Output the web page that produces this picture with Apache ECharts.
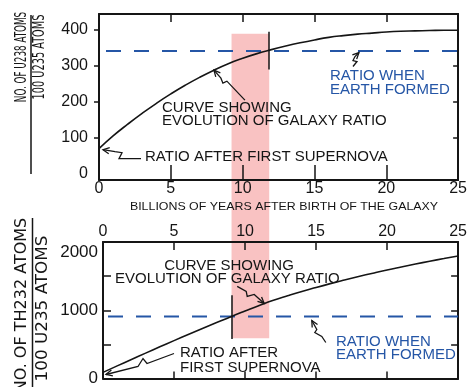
<!DOCTYPE html>
<html>
<head>
<meta charset="utf-8">
<script src="https://cdn.jsdelivr.net/npm/echarts@6/dist/echarts.min.js"></script>
<style>
html,body{margin:0;padding:0;background:#fff}
#chart{width:470px;height:387px}
</style>
</head>
<body>
<div id="chart"></div>
<script>
// Time after the birth of the galaxy, billions of years
const years = [0,1,2,3,4,5,6,7,8,9,10,11,12,13,14,15,16,17,18,19,20,21,22,23,24,25];
// U238 atoms per 100 U235 atoms in the galaxy
const u238Ratio = [70,106,138,168,196,222,246,268,288,306,321,334,345,355,364,372,379,384,388,391,394,396,397,398,399,399];
// Th232 atoms per 100 U235 atoms in the galaxy
const th232Ratio = [90,185,279,372,464,555,645,733,819,906,989,1070,1146,1212,1275,1334,1390,1443,1494,1543,1590,1634,1677,1718,1757,1795];
// Ratios when the Earth formed
const u238EarthRatio = 341;
const th232EarthRatio = 910;
// Times at which the galaxy curves reach the Earth ratios
const th232CrossYear = 9.05;
const u238CrossYear = 11.85;

const yearTicks = [0,5,10,15,20,25];
const u238Labels = [0,100,200,300,400];
const th232Labels = [0,1000,2000];

const INK = '#151515';
const BLUE = '#2556a6';
const PINK = '#f9c2c2';
const NUM_FONT = 'Liberation Sans';

const chart = echarts.init(document.getElementById('chart'), null, {renderer: 'canvas'});

const boxLine = {show: true, onZero: false, lineStyle: {color: INK, width: 2}};

function pairs(xs, ys) { return xs.map((x, i) => [x, ys[i]]); }

const option = {
  animation: false,
  backgroundColor: '#fff',
  grid: [
    {left: 99, top: 14, width: 364, height: 166},
    {left: 103, top: 242, width: 364, height: 142}
  ],
  xAxis: [
    { // top panel, bottom edge with labels
      type: 'value', gridIndex: 0, position: 'bottom', min: 0, max: 25, interval: 5,
      axisLine: boxLine,
      axisTick: {show: true, inside: true, length: 15, customValues: [5,10,15,20], lineStyle: {color: INK, width: 1.5}},
      axisLabel: {show: true, customValues: yearTicks, margin: 1, color: INK, fontSize: 16, fontFamily: NUM_FONT},
      splitLine: {show: false}
    },
    { // top panel, top edge
      type: 'value', gridIndex: 0, position: 'top', min: 0, max: 25, interval: 5,
      axisLine: boxLine,
      axisTick: {show: true, inside: true, length: 8, customValues: [5,10,15,20], lineStyle: {color: INK, width: 1.5}},
      axisLabel: {show: false},
      splitLine: {show: false}
    },
    { // bottom panel, top edge with labels
      type: 'value', gridIndex: 1, position: 'top', min: 0, max: 25, interval: 5,
      axisLine: boxLine,
      axisTick: {show: true, inside: true, length: 8, customValues: [5,10,15,20], lineStyle: {color: INK, width: 1.5}},
      axisLabel: {show: true, customValues: yearTicks, margin: 2, color: INK, fontSize: 16, fontFamily: NUM_FONT},
      splitLine: {show: false}
    },
    { // bottom panel, bottom edge
      type: 'value', gridIndex: 1, position: 'bottom', min: 0, max: 25, interval: 5,
      axisLine: boxLine,
      axisTick: {show: true, inside: true, length: 7, customValues: [5,10,15,20], lineStyle: {color: INK, width: 1.5}},
      axisLabel: {show: false},
      splitLine: {show: false}
    }
  ],
  yAxis: [
    {
      type: 'value', gridIndex: 0, position: 'left', min: -17, max: 444,
      axisLine: boxLine,
      axisTick: {show: true, inside: false, length: 5, customValues: [100,200,300,400], lineStyle: {color: INK, width: 1.5}},
      axisLabel: {show: true, customValues: u238Labels, margin: 11, color: INK, fontSize: 16, fontFamily: NUM_FONT},
      splitLine: {show: false}
    },
    {
      type: 'value', gridIndex: 0, position: 'right', min: -17, max: 444,
      axisLine: boxLine,
      axisTick: {show: true, inside: true, length: 5, customValues: [100,200,300], lineStyle: {color: INK, width: 1.5}},
      axisLabel: {show: false},
      splitLine: {show: false}
    },
    {
      type: 'value', gridIndex: 1, position: 'left', min: 0, max: 2000,
      axisLine: boxLine,
      axisTick: {show: true, inside: true, length: 8, customValues: [500,1000,1500], lineStyle: {color: INK, width: 1.5}},
      axisLabel: {
        show: true, customValues: th232Labels, margin: 5, color: INK, fontSize: 17, fontFamily: NUM_FONT,
        formatter: v => v === 2000 ? '{low|' + v + '}' : String(v),
        rich: {low: {fontSize: 17, fontFamily: NUM_FONT, color: INK, padding: [20, 0, 0, 0]}}
      },
      splitLine: {show: false}
    },
    {
      type: 'value', gridIndex: 1, position: 'right', min: 0, max: 2000,
      axisLine: boxLine,
      axisTick: {show: true, inside: true, length: 7, customValues: [500,1000,1500], lineStyle: {color: INK, width: 1.5}},
      axisLabel: {show: false},
      splitLine: {show: false}
    }
  ],
  series: [
    {
      name: 'U238 galaxy ratio', type: 'line', xAxisIndex: 0, yAxisIndex: 0,
      data: pairs(years, u238Ratio), smooth: true, symbol: 'none', z: 4,
      lineStyle: {color: INK, width: 1.6}
    },
    {
      name: 'U238 Earth ratio', type: 'line', xAxisIndex: 0, yAxisIndex: 0,
      data: [[0, u238EarthRatio], [25, u238EarthRatio]], symbol: 'none', z: 3,
      lineStyle: {color: BLUE, width: 2, type: [15, 13], dashOffset: -7},
      markLine: {
        silent: true, symbol: 'none', label: {show: false},
        lineStyle: {color: INK, width: 1.5, type: 'solid'},
        data: [[{coord: [u238CrossYear, 395]}, {coord: [u238CrossYear, 290]}]]
      }
    },
    {
      name: 'Th232 galaxy ratio', type: 'line', xAxisIndex: 2, yAxisIndex: 2,
      data: pairs(years, th232Ratio), smooth: true, symbol: 'none', z: 4,
      lineStyle: {color: INK, width: 1.6}
    },
    {
      name: 'Th232 Earth ratio', type: 'line', xAxisIndex: 2, yAxisIndex: 2,
      data: [[0, th232EarthRatio], [25, th232EarthRatio]], symbol: 'none', z: 3,
      lineStyle: {color: BLUE, width: 2, type: [15, 13], dashOffset: -5},
      markLine: {
        silent: true, symbol: 'none', label: {show: false},
        lineStyle: {color: INK, width: 1.5, type: 'solid'},
        data: [[{coord: [th232CrossYear, 1220]}, {coord: [th232CrossYear, 580]}]]
      }
    }
  ]
};

chart.setOption(option);

// ---- annotations ----
function txt(text, x, y, opts) {
  opts = opts || {};
  return {
    type: 'text', x: x, y: y, z: 10,
    rotation: opts.rotation || 0, scaleX: opts.scaleX || 1, scaleY: 1,
    style: {
      text: text, fill: opts.color || INK,
      fontSize: opts.size || 15, fontFamily: opts.family || 'Liberation Sans',
      align: opts.align || 'left', verticalAlign: 'middle',
      textAlign: opts.align || 'left', textVerticalAlign: 'middle'
    }
  };
}

function arrow(tip, offs, color) {
  const pts = offs.map(o => [tip[0] + o[0], tip[1] + o[1]]);
  const dx = pts[1][0] - pts[0][0], dy = pts[1][1] - pts[0][1];
  const a = Math.atan2(dy, dx), L = 7, s = 0.45;
  const h1 = [tip[0] + L * Math.cos(a + s), tip[1] + L * Math.sin(a + s)];
  const h2 = [tip[0] + L * Math.cos(a - s), tip[1] + L * Math.sin(a - s)];
  const st = {stroke: color || INK, lineWidth: 1.3, fill: null};
  return [
    {type: 'polyline', z: 10, shape: {points: pts}, style: st},
    {type: 'polyline', z: 10, shape: {points: [h1, tip, h2]}, style: st}
  ];
}

const P0 = (x, y) => chart.convertToPixel({gridIndex: 0}, [x, y]);
const P1 = (x, y) => chart.convertToPixel({gridIndex: 1}, [x, y]);

// shaded interval between the two crossing times
const bandLeft = P1(th232CrossYear, 0)[0];
const bandRight = P0(u238CrossYear, 0)[0];
const bandTop = P0(0, 389)[1];
const bandBottom = P1(0, 590)[1];

const g = [];
g.push({type: 'rect', z: -5, silent: true,
  shape: {x: bandLeft, y: bandTop, width: bandRight - bandLeft, height: bandBottom - bandTop},
  style: {fill: PINK}});

// y axis titles (fractions)
const TF = 'DejaVu Sans';
g.push(txt('NO. OF U238 ATOMS', 21.5, 57, {rotation: Math.PI / 2, scaleX: 0.55, size: 16, family: TF, align: 'center'}));
g.push(txt('100 U235 ATOMS', 40, 57, {rotation: Math.PI / 2, scaleX: 0.61, size: 16, family: TF, align: 'center'}));
g.push({type: 'line', z: 10, shape: {x1: 31, y1: 15, x2: 31, y2: 174}, style: {stroke: INK, lineWidth: 1.5}});
g.push(txt('NO. OF TH232 ATOMS', 21.5, 305, {rotation: Math.PI / 2, scaleX: 1.0, size: 16, family: TF, align: 'center'}));
g.push(txt('100 U235 ATOMS', 43, 308.5, {rotation: Math.PI / 2, scaleX: 1.05, size: 16, family: TF, align: 'center'}));
g.push({type: 'line', z: 10, shape: {x1: 32.5, y1: 218, x2: 32.5, y2: 390}, style: {stroke: INK, lineWidth: 1.5}});

// shared x axis title
g.push(txt('BILLIONS OF YEARS AFTER BIRTH OF THE GALAXY', 284, 207, {size: 10.5, scaleX: 1.18, align: 'center'}));

// top panel notes
g.push(txt('CURVE SHOWING', 162, 108));
g.push(txt('EVOLUTION OF GALAXY RATIO', 162, 121));
g.push(txt('RATIO AFTER FIRST SUPERNOVA', 145, 157));
g.push(txt('RATIO WHEN', 330, 76, {color: BLUE}));
g.push(txt('EARTH FORMED', 330, 90, {color: BLUE}));
g.push(...arrow(P0(8.0, 288), [[0, 0], [7, 8], [9, 13], [13, 11], [31, 30]]));
const t0 = P0(0, 70);
g.push(...arrow([t0[0] + 4, t0[1] + 1], [[0, 0], [12, 2], [19, 3], [16, 9], [38, 9]]));
g.push(...arrow(P0(18.1, u238EarthRatio - 4), [[0, 0], [-4, 4], [-6, 8], [-2, 9], [-6, 14]]));

// bottom panel notes
g.push(txt('CURVE SHOWING', 229, 265.5, {align: 'center'}));
g.push(txt('EVOLUTION OF GALAXY RATIO', 115, 278.5));
g.push(txt('RATIO AFTER', 180, 353));
g.push(txt('FIRST SUPERNOVA', 180, 368));
g.push(txt('RATIO WHEN', 336, 341.5, {color: BLUE}));
g.push(txt('EARTH FORMED', 336, 355, {color: BLUE}));
g.push(...arrow(P1(11.35, 1100), [[0, 0], [-10, -9], [-17, -7], [-18, -12], [-27, -17]]));
const t1 = P1(0, 0);
g.push(...arrow([t1[0] + 3, t1[1] - 4], [[0, 0], [32, -8], [37, -16], [41, -11], [68, -21]]));
g.push(...arrow(P1(14.7, th232EarthRatio - 60), [[0, 0], [5, 9], [3, 12], [10, 16], [14, 22]]));

chart.setOption({graphic: g});
</script>
</body>
</html>
